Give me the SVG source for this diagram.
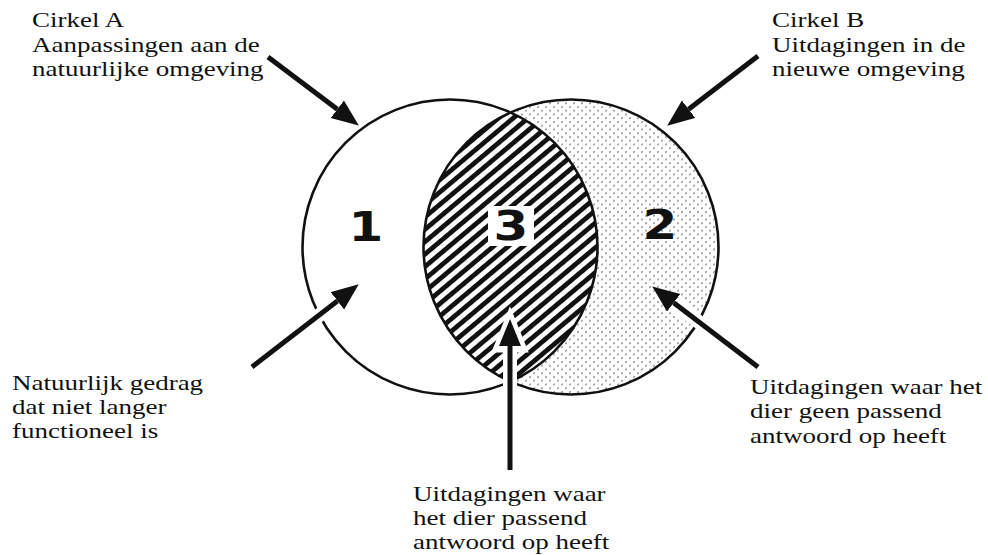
<svg xmlns="http://www.w3.org/2000/svg" width="988" height="555" viewBox="0 0 988 555">
<style>
.lbl{font-size:20px;fill:#111}
.num{font-weight:bold;font-size:40px;fill:#111;text-anchor:middle}
.ring{fill:none;stroke:#111;stroke-width:2.6}
.arr{fill:none;stroke:#111;stroke-width:5;marker-end:url(#ah)}
.halo{fill:none;stroke:#fff;stroke-width:14}
</style>
<defs>
<pattern id="dots" width="8" height="7.5" patternUnits="userSpaceOnUse">
<ellipse cx="2" cy="2" rx="1.2" ry="0.75" transform="rotate(-40 2 2)" fill="#888"/>
<ellipse cx="6" cy="5.75" rx="1.2" ry="0.75" transform="rotate(-40 6 5.75)" fill="#888"/>
</pattern>
<pattern id="hatch" width="20" height="9.5" patternUnits="userSpaceOnUse" patternTransform="rotate(-40)">
<rect x="0" y="0" width="20" height="4.8" fill="#111"/>
</pattern>
<marker id="ah" markerUnits="userSpaceOnUse" markerWidth="28" markerHeight="24" refX="0" refY="11" orient="auto">
<path d="M0,0 L27,11 L0,22 z" fill="#111"/>
</marker>
</defs>

<g id="circleB-area">
<circle cx="571" cy="247" r="147.5" fill="url(#dots)"/>
</g>
<g id="overlap-area">
<path d="M510.5,112.5 A147.5,147.5 0 0 1 510.5,381.5 A147.5,147.5 0 0 1 510.5,112.5 z" fill="#fff"/>
<path d="M510.5,112.5 A147.5,147.5 0 0 1 510.5,381.5 A147.5,147.5 0 0 1 510.5,112.5 z" fill="url(#hatch)"/>
</g>
<g id="circleA">
<circle class="ring" cx="450" cy="247" r="147.5"/>
</g>
<g id="circleB">
<circle class="ring" cx="571" cy="247" r="147.5"/>
</g>

<g id="region1"><text class="num" font-family="DejaVu Sans, Liberation Sans, sans-serif" transform="translate(366 241) scale(1.25 1)">1</text></g>
<g id="region3">
<rect x="488" y="206" width="46" height="40" fill="#fff"/>
<text class="num" font-family="DejaVu Sans, Liberation Sans, sans-serif" transform="translate(511 240) scale(1.25 1)">3</text>
</g>
<g id="region2"><text class="num" font-family="DejaVu Sans, Liberation Sans, sans-serif" transform="translate(660 239) scale(1.25 1)">2</text></g>

<g id="connectors">
<line class="halo" x1="252" y1="367" x2="352" y2="290"/>
<line class="halo" x1="758" y1="367" x2="658" y2="291"/>
<line class="halo" x1="510" y1="470" x2="510" y2="330"/>
<path d="M510,313 L525,350 L495,350 z" fill="#fff" stroke="#fff" stroke-width="5"/>
<line class="arr" x1="268" y1="57" x2="337.3" y2="109.3"/>
<line class="arr" x1="758" y1="56" x2="688.6" y2="109.2"/>
<line class="arr" x1="252" y1="367" x2="337.4" y2="300.9"/>
<line class="arr" x1="758" y1="367" x2="673.7" y2="302.8"/>
<line class="arr" x1="510" y1="470" x2="510" y2="346"/>
</g>

<g font-family="Liberation Serif, DejaVu Serif, Times New Roman, serif">
<g id="label-circleA" transform="translate(32 0) scale(1.35 1)">
<text class="lbl" x="0" y="27">Cirkel A</text>
<text class="lbl" x="0" y="52">Aanpassingen aan de</text>
<text class="lbl" x="0" y="76">natuurlijke omgeving</text>
</g>
<g id="label-circleB" transform="translate(772 0) scale(1.35 1)">
<text class="lbl" x="0" y="27">Cirkel B</text>
<text class="lbl" x="0" y="52">Uitdagingen in de</text>
<text class="lbl" x="0" y="76">nieuwe omgeving</text>
</g>
<g id="label-1" transform="translate(12 0) scale(1.35 1)">
<text class="lbl" x="0" y="390">Natuurlijk gedrag</text>
<text class="lbl" x="0" y="414">dat niet langer</text>
<text class="lbl" x="0" y="438">functioneel is</text>
</g>
<g id="label-3" transform="translate(413 0) scale(1.35 1)">
<text class="lbl" x="0" y="501">Uitdagingen waar</text>
<text class="lbl" x="0" y="525">het dier passend</text>
<text class="lbl" x="0" y="549">antwoord op heeft</text>
</g>
<g id="label-2" transform="translate(750 0) scale(1.35 1)">
<text class="lbl" x="0" y="394">Uitdagingen waar het</text>
<text class="lbl" x="0" y="418">dier geen passend</text>
<text class="lbl" x="0" y="443">antwoord op heeft</text>
</g>
</g>
</svg>
